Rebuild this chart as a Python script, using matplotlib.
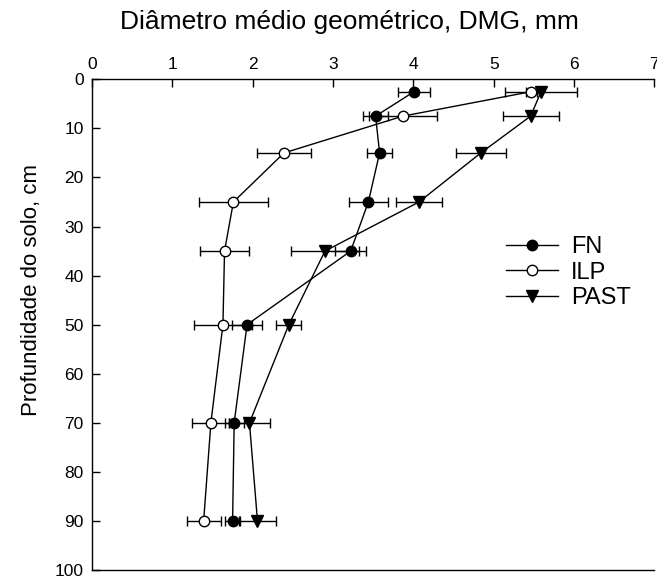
import numpy as np
import matplotlib.pyplot as plt

plt.rcParams['font.family'] = ['Liberation Sans', 'DejaVu Sans']

# profundidade media de cada camada (cm)
depth = [2.5, 7.5, 15, 25, 35, 50, 70, 90]

# DMG (mm) e erro por sistema de manejo
fn_dmg = [4.01, 3.53, 3.58, 3.44, 3.22, 1.93, 1.77, 1.75]
fn_err = [0.20, 0.16, 0.155, 0.245, 0.19, 0.19, 0.12, 0.09]

ilp_dmg = [5.47, 3.87, 2.39, 1.76, 1.65, 1.63, 1.48, 1.39]
ilp_err = [0.07, 0.42, 0.33, 0.43, 0.31, 0.36, 0.23, 0.21]

past_dmg = [5.59, 5.46, 4.84, 4.07, 2.90, 2.45, 1.96, 2.06]
past_err = [0.45, 0.35, 0.31, 0.29, 0.42, 0.155, 0.25, 0.23]

series = [
    ('FN', fn_dmg, fn_err, dict(marker='o', mfc='black')),
    ('ILP', ilp_dmg, ilp_err, dict(marker='o', mfc='white')),
    ('PAST', past_dmg, past_err, dict(marker='v', mfc='black')),
]

fig = plt.figure(figsize=(6.57, 5.79), dpi=100)
ax = fig.add_axes([0.14, 0.0155, 0.856, 0.8475])

handles = []
for name, vals, err, st in series:
    ax.errorbar(vals, depth, xerr=err, fmt='none', ecolor='black',
                elinewidth=1.0, capsize=3.6, capthick=1.0, zorder=2)
    h, = ax.plot(vals, depth, color='black', lw=1.0, marker=st['marker'],
                 ms=7.5 if st['marker'] == 'o' else 8, mfc=st['mfc'],
                 mec='black', mew=1.0, label=name, zorder=3)
    handles.append(h)

ax.set_xlim(0, 7)
ax.set_ylim(100, 0)
ax.set_xticks(range(0, 8))
ax.set_yticks(range(0, 101, 10))
ax.xaxis.tick_top()
ax.xaxis.set_label_position('top')
ax.tick_params(axis='x', direction='in', length=6, width=1, labelsize=12.5, pad=5)
ax.tick_params(axis='y', direction='in', length=6, width=1, labelsize=12.5, pad=6)
ax.spines['right'].set_visible(False)
for s in ['top', 'left', 'bottom']:
    ax.spines[s].set_linewidth(1.0)

ax.set_xlabel('Diâmetro médio geométrico, DMG, mm', fontsize=19)
ax.xaxis.set_label_coords(0.457, 1.0 + 50 / 490.7)
ax.set_ylabel('Profundidade do solo, cm', fontsize=16)
ax.yaxis.set_label_coords(-0.088, 0.571)

ax.legend(handles=handles, loc='upper left', bbox_to_anchor=(0.72, 0.70),
          frameon=False, fontsize=17, handlelength=2.2, handletextpad=0.55,
          labelspacing=0.15, borderaxespad=0)

fig.savefig('out.png', dpi=100)
